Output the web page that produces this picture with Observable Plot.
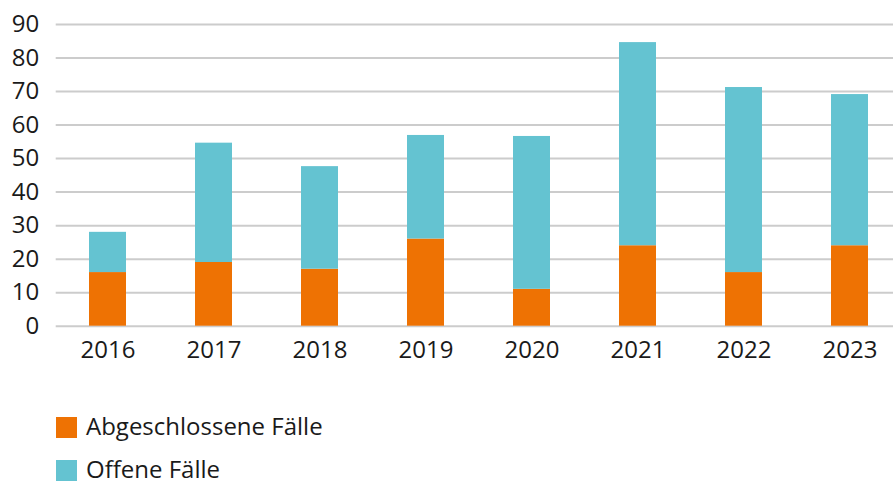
<!DOCTYPE html>
<html>
<head>
<meta charset="utf-8">
<script src="https://cdn.jsdelivr.net/npm/d3@7"></script>
<script src="https://cdn.jsdelivr.net/npm/@observablehq/plot@0.6"></script>
<style>
  html, body { margin: 0; padding: 0; background: #fff; }
  body { width: 893px; height: 482px; overflow: hidden; font-family: "Open Sans", sans-serif; position: relative; }
  #legend { position: absolute; left: 56px; top: 417px; }
  .item { position: absolute; left: 0; display: flex; align-items: center; height: 21px; font-size: 24px; line-height: 1; color: #1a1a1a; white-space: nowrap; }
  .item span { position: relative; top: -2px; line-height: 0.9; }
  .sw { width: 21px; height: 21px; margin-right: 9px; flex: none; }
</style>
</head>
<body>
<div id="chart"></div>
<div id="legend"></div>
<script>
const years = ["2016", "2017", "2018", "2019", "2020", "2021", "2022", "2023"];
const abgeschlossen = [16, 19, 17, 26, 11, 24, 16, 24];
const gesamt = [28, 54.6, 47.6, 56.9, 56.6, 84.6, 71.2, 69.1];
const seriesNames = ["Abgeschlossene Fälle", "Offene Fälle"];
const seriesColors = ["#EE7203", "#64C3D1"];
const yTicks = [0, 10, 20, 30, 40, 50, 60, 70, 80, 90];

const data = [];
years.forEach((y, i) => {
  data.push({year: y, series: seriesNames[0], value: abgeschlossen[i]});
  data.push({year: y, series: seriesNames[1], value: gesamt[i] - abgeschlossen[i]});
});

const chart = Plot.plot({
  width: 893,
  height: 372,
  marginLeft: 55.7,
  marginRight: 0,
  marginTop: 24,
  marginBottom: 46.3,
  style: {fontFamily: "Open Sans, sans-serif", fontSize: "24px", color: "#1a1a1a", background: "#fff"},
  x: {domain: years, range: [54.4, 903.5], paddingInner: 0.65, paddingOuter: 0.325, label: null},
  y: {domain: [0, 90], ticks: yTicks, label: null},
  color: {domain: seriesNames, range: seriesColors},
  marks: [
    Plot.gridY(yTicks, {stroke: "#cccccc", strokeOpacity: 1, strokeWidth: 2}),
    Plot.barY(data, {x: "year", y: "value", fill: "series", order: seriesNames}),
    Plot.axisY(yTicks, {tickSize: 0, tickPadding: 17, fontSize: 24, tickFormat: d => String(d)}),
    Plot.axisX({tickSize: 0, tickPadding: 15, fontSize: 24})
  ]
});
document.getElementById("chart").appendChild(chart);

const legend = document.getElementById("legend");
seriesNames.forEach((name, i) => {
  const it = document.createElement("div");
  it.className = "item";
  it.style.top = (i * 43) + "px";
  const sw = document.createElement("div");
  sw.className = "sw";
  sw.style.background = seriesColors[i];
  const tx = document.createElement("span");
  tx.textContent = name;
  it.appendChild(sw);
  it.appendChild(tx);
  legend.appendChild(it);
});
</script>
</body>
</html>
